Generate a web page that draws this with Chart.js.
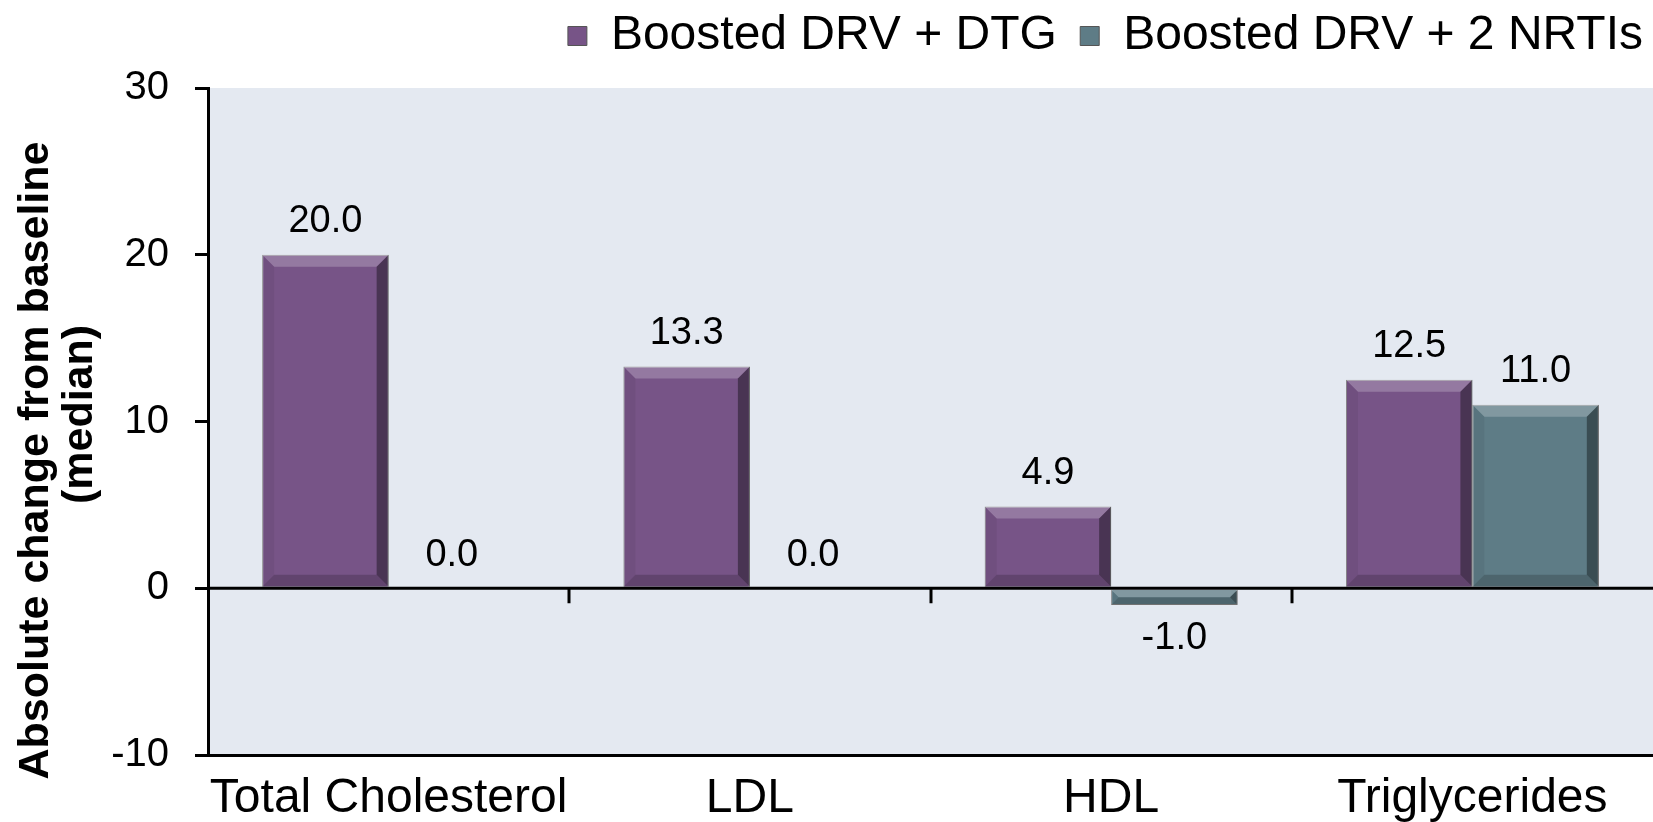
<!DOCTYPE html>
<html lang="en">
<head>
    <meta charset="UTF-8">
    <title>Lipid changes</title>
    <script src="https://cdn.jsdelivr.net/npm/chart.js"></script>
    <style>
        html, body {
            margin: 0;
            padding: 0;
            background: #ffffff;
            overflow: hidden;
        }
        #wrap {
            width: 1653px;
            height: 822px;
        }
    </style>
</head>
<body>

    <div id="wrap">
        <canvas id="lipidChart" width="1653" height="822"></canvas>
    </div>

    <script>
        // chart data
        const categories = ['Total Cholesterol', 'LDL', 'HDL', 'Triglycerides'];
        const seriesNames = ['Boosted DRV + DTG', 'Boosted DRV + 2 NRTIs'];
        const drvDtg = [20.0, 13.3, 4.9, 12.5];
        const drvNrti = [0.0, 0.0, -1.0, 11.0];
        const yTicks = [-10, 0, 10, 20, 30];
        const yTitle = ['Absolute change from baseline', '(median)'];

        const purple = '#775487';
        const teal = '#5e7c86';
        const plotBg = '#e4e9f1';
        const fontName = '"Liberation Sans", Arial, sans-serif';

        // light blue-grey plot background
        const plotBackground = {
            id: 'plotBackground',
            beforeDraw(chart) {
                const { ctx, chartArea } = chart;
                ctx.save();
                ctx.fillStyle = plotBg;
                ctx.fillRect(chartArea.left, chartArea.top, chartArea.right - chartArea.left, chartArea.bottom - chartArea.top);
                ctx.restore();
            }
        };

        // leave a gap under the legend
        const legendGap = {
            id: 'legendGap',
            beforeLayout(chart) {
                const lg = chart.legend;
                if (lg && !lg._gapPatched) {
                    const fit = lg.fit.bind(lg);
                    lg.fit = function () {
                        fit();
                        this.height += 18;
                    };
                    lg._gapPatched = true;
                }
            }
        };

        // rotated two-line axis title, the lines sit a little apart like the original
        const axisTitle = {
            id: 'axisTitle',
            afterDraw(chart) {
                const { ctx, chartArea } = chart;
                const mid = (chartArea.top + chartArea.bottom) / 2;
                const lines = [
                    { text: yTitle[0], x: 36, y: mid + 39 },
                    { text: yTitle[1], x: 80, y: mid - 7 }
                ];
                ctx.save();
                ctx.fillStyle = '#000000';
                ctx.font = 'bold 43px ' + fontName;
                ctx.textAlign = 'center';
                ctx.textBaseline = 'middle';
                lines.forEach(l => {
                    ctx.save();
                    ctx.translate(l.x, l.y);
                    ctx.rotate(-Math.PI / 2);
                    ctx.fillText(l.text, 0, 0);
                    ctx.restore();
                });
                ctx.restore();
            }
        };

        // bevelled look on the bars
        const bevel = {
            id: 'bevel',
            afterDatasetsDraw(chart) {
                const ctx = chart.ctx;
                chart.data.datasets.forEach((ds, i) => {
                    const meta = chart.getDatasetMeta(i);
                    meta.data.forEach(bar => {
                        const p = bar.getProps(['x', 'y', 'base', 'width'], true);
                        const l = p.x - p.width / 2, r = p.x + p.width / 2;
                        const t = Math.min(p.y, p.base), b = Math.max(p.y, p.base);
                        const h = b - t;
                        if (h < 1) return;
                        const s = Math.min(12, h / 2, p.width / 2);
                        const quad = (pts, fill) => {
                            ctx.beginPath();
                            ctx.moveTo(pts[0][0], pts[0][1]);
                            for (let k = 1; k < pts.length; k++) ctx.lineTo(pts[k][0], pts[k][1]);
                            ctx.closePath();
                            ctx.fillStyle = fill;
                            ctx.fill();
                        };
                        ctx.save();
                        quad([[l, t], [r, t], [r - s, t + s], [l + s, t + s]], 'rgba(255,255,255,0.22)');
                        quad([[l, t], [l + s, t + s], [l + s, b - s], [l, b]], 'rgba(0,0,0,0.06)');
                        quad([[r, t], [r, b], [r - s, b - s], [r - s, t + s]], 'rgba(0,0,0,0.38)');
                        quad([[l, b], [l + s, b - s], [r - s, b - s], [r, b]], 'rgba(0,0,0,0.18)');
                        ctx.restore();
                    });
                });
            }
        };

        // zero line, category ticks and value labels
        const overlay = {
            id: 'overlay',
            afterDatasetsDraw(chart) {
                const { ctx, chartArea, scales } = chart;
                const zeroY = scales.y.getPixelForValue(0);
                ctx.save();
                ctx.strokeStyle = '#000000';
                ctx.lineWidth = 3;
                ctx.beginPath();
                ctx.moveTo(chartArea.left, zeroY);
                ctx.lineTo(chartArea.right, zeroY);
                ctx.stroke();

                for (let i = 1; i < categories.length; i++) {
                    const x = Math.round((scales.x.getPixelForValue(i - 1) + scales.x.getPixelForValue(i)) / 2);
                    ctx.beginPath();
                    ctx.moveTo(x, zeroY);
                    ctx.lineTo(x, zeroY + 15);
                    ctx.stroke();
                }

                ctx.fillStyle = '#000000';
                ctx.font = '38px ' + fontName;
                ctx.textAlign = 'center';
                ctx.textBaseline = 'middle';
                chart.data.datasets.forEach((ds, i) => {
                    const meta = chart.getDatasetMeta(i);
                    meta.data.forEach((bar, j) => {
                        const v = ds.data[j];
                        const p = bar.getProps(['x', 'y'], true);
                        const y = v < 0 ? p.y + 34 : p.y - 33;
                        ctx.fillText(v.toFixed(1), p.x, y);
                    });
                });
                ctx.restore();
            }
        };

        const ctx = document.getElementById('lipidChart').getContext('2d');
        const lipidChart = new Chart(ctx, {
            type: 'bar',
            data: {
                labels: categories,
                datasets: [{
                    label: seriesNames[0],
                    data: drvDtg,
                    backgroundColor: purple,
                    borderColor: '#8b8b8b',
                    borderWidth: 1
                }, {
                    label: seriesNames[1],
                    data: drvNrti,
                    backgroundColor: teal,
                    borderColor: '#8b8b8b',
                    borderWidth: 1
                }]
            },
            options: {
                responsive: false,
                animation: false,
                categoryPercentage: 0.7,
                barPercentage: 1.0,
                layout: {
                    padding: { top: 2, left: 0, right: 0, bottom: 0 }
                },
                plugins: {
                    tooltip: { enabled: false },
                    legend: {
                        position: 'top',
                        align: 'end',
                        labels: {
                            color: '#000000',
                            font: { family: fontName, size: 48 },
                            boxWidth: 19,
                            boxHeight: 19,
                            padding: 10,
                            generateLabels(chart) {
                                const items = Chart.defaults.plugins.legend.labels.generateLabels(chart);
                                items[0].text = items[0].text + ' ';
                                items.forEach(it => { it.strokeStyle = '#555555'; it.lineWidth = 1; });
                                return items;
                            }
                        }
                    }
                },
                scales: {
                    x: {
                        grid: { display: false, drawTicks: false },
                        border: { display: true, color: '#000000', width: 3 },
                        afterFit(scale) {
                            scale.height = 67;
                        },
                        ticks: {
                            color: '#000000',
                            font: { family: fontName, size: 48, lineHeight: 1 },
                            padding: 20,
                            maxRotation: 0
                        }
                    },
                    y: {
                        min: -10,
                        max: 30,
                        afterBuildTicks(scale) {
                            scale.ticks = yTicks.map(v => ({ value: v }));
                        },
                        afterFit(scale) {
                            scale.width = 208;
                        },
                        grid: {
                            drawOnChartArea: false,
                            drawTicks: true,
                            tickLength: 13,
                            color: '#000000',
                            lineWidth: 3
                        },
                        border: { display: true, color: '#000000', width: 3 },
                        ticks: {
                            color: '#000000',
                            font: { family: fontName, size: 40 },
                            padding: 26
                        },
                        title: { display: false }
                    }
                }
            },
            plugins: [plotBackground, legendGap, bevel, overlay, axisTitle]
        });
    </script>

</body>
</html>
